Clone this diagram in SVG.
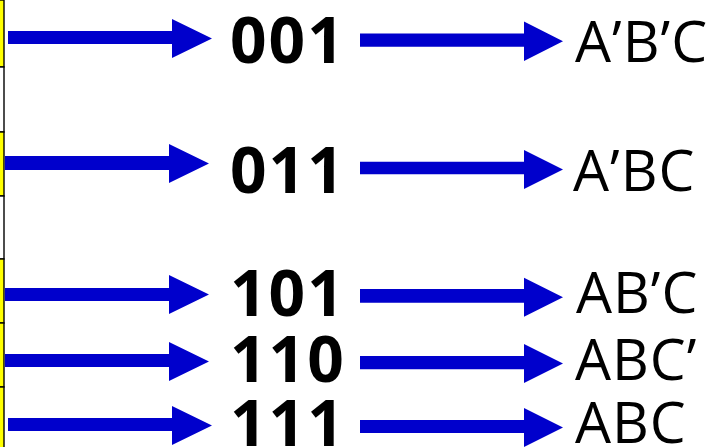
<svg xmlns="http://www.w3.org/2000/svg" width="712" height="447" viewBox="0 0 712 447">
<style>
.cell{stroke:#000;stroke-width:1.4}
.y{fill:#FFFF00}
.w{fill:#FFFFFF}
.arr{fill:#0000CC}
.num{font-family:"Open Sans","DejaVu Sans",sans-serif;font-weight:bold;font-size:64px;letter-spacing:2px;fill:#000}
.term{font-family:"Open Sans","DejaVu Sans",sans-serif;font-size:57px;letter-spacing:1px;fill:#000}
</style>
<rect width="712" height="447" fill="#fff"/>
<g id="table">
<rect class="cell y" x="-5" y="0" width="9" height="67"/>
<rect class="cell w" x="-5" y="67" width="9" height="65"/>
<rect class="cell y" x="-5" y="132" width="9" height="64"/>
<rect class="cell w" x="-5" y="196" width="9" height="63"/>
<rect class="cell y" x="-5" y="259" width="9" height="64"/>
<rect class="cell y" x="-5" y="323" width="9" height="64"/>
<rect class="cell y" x="-5" y="387" width="9" height="64"/>
</g>
<g id="connectors">
<polygon class="arr" points="8,31 172,31 172,19 212,38.5 172,58 172,44 8,44"/>
<polygon class="arr" points="5,156 169,156 169,144 209,163.5 169,183 169,170 5,170"/>
<polygon class="arr" points="5,288 169,288 169,275 209,294.5 169,314 169,301 5,301"/>
<polygon class="arr" points="5,354 169,354 169,342 209,361.5 169,381 169,367 5,367"/>
<polygon class="arr" points="8,418 172,418 172,406 212,425.5 172,445 172,431 8,431"/>
<polygon class="arr" points="360,33.5 524,33.5 524,21.5 563,41.3 524,61 524,46.7 360,46.7"/>
<polygon class="arr" points="360,161.7 524,161.7 524,150 563,169.5 524,189 524,174.3 360,174.3"/>
<polygon class="arr" points="360,289 524,289 524,277.7 563,297.2 524,316.7 524,302.7 360,302.7"/>
<polygon class="arr" points="360,356 524,356 524,344 563,363.5 524,383 524,369.3 360,369.3"/>
<polygon class="arr" points="360,420 524,420 524,408 563,427.5 524,447 524,433 360,433"/>
</g>
<g id="n001"><text class="num" x="230" y="63">001</text></g>
<g id="n011"><text class="num" x="230" y="193">011</text></g>
<g id="n101"><text class="num" x="230" y="316">101</text></g>
<g id="n110"><text class="num" x="230" y="382">110</text></g>
<g id="n111"><text class="num" x="230" y="446">111</text></g>
<g id="t1"><text class="term" x="575" y="62">A’B’C</text></g>
<g id="t2"><text class="term" x="573" y="191">A’BC</text></g>
<g id="t3"><text class="term" x="576" y="313">AB’C</text></g>
<g id="t4"><text class="term" x="575" y="380">ABC’</text></g>
<g id="t5"><text class="term" x="575" y="443">ABC</text></g>
</svg>
